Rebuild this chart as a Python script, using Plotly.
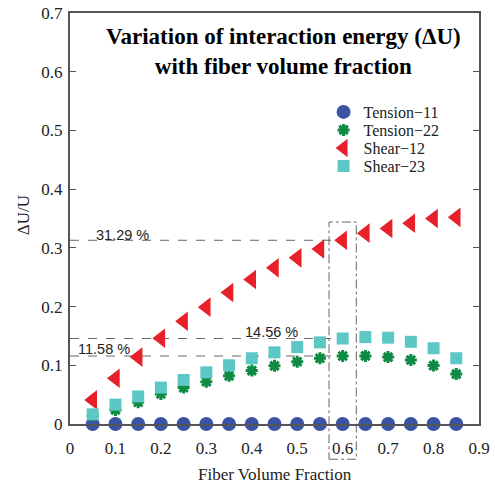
import plotly.graph_objects as go

vf = [0.05, 0.10, 0.15, 0.20, 0.25, 0.30, 0.35, 0.40, 0.45, 0.50, 0.55, 0.60, 0.65, 0.70, 0.75, 0.80, 0.85]
tension_11 = [0.0] * 17
tension_22 = [0.014, 0.024, 0.037, 0.051, 0.062, 0.072, 0.082, 0.091, 0.099, 0.106, 0.112, 0.1158, 0.116, 0.114, 0.109, 0.0995, 0.085]
shear_12 = [0.041, 0.078, 0.114, 0.146, 0.175, 0.199, 0.224, 0.246, 0.266, 0.283, 0.298, 0.3129, 0.325, 0.333, 0.342, 0.350, 0.352]
shear_23 = [0.0165, 0.033, 0.047, 0.062, 0.075, 0.088, 0.100, 0.112, 0.122, 0.131, 0.139, 0.1456, 0.148, 0.147, 0.140, 0.129, 0.112]

ann_vals = [0.3129, 0.1456, 0.1158]
ann_text = ["31.29 %", "14.56 %", "11.58 %"]
ann_x = [0.116, 0.444, 0.074]
ann_y = [0.3225, 0.1575, 0.128]
focus_vf = 0.6

serif = "Liberation Serif"
fig = go.Figure()
fig.add_trace(go.Scatter(x=vf, y=tension_11, mode="markers", name="Tension−11", legend="legend",
                         marker=dict(symbol="circle", size=14, color="#3a53a4"), cliponaxis=False))
fig.add_trace(go.Scatter(x=vf, y=tension_22, mode="markers", name="Tension−22", legend="legend2",
                         marker=dict(symbol="asterisk-open", size=10, color="#0f8a43",
                                     line=dict(width=3, color="#0f8a43"))))
fig.add_trace(go.Scatter(x=vf, y=shear_12, mode="markers", name="Shear−12", legend="legend3",
                         marker=dict(symbol="triangle-left", size=17, color="#e8202a")))
fig.add_trace(go.Scatter(x=vf, y=shear_23, mode="markers", name="Shear−23", legend="legend4",
                         marker=dict(symbol="square", size=12, color="#5cc8c6")))
for tr in fig.data:
    tr.showlegend = True

for v, t, tx, ty in zip(ann_vals, ann_text, ann_x, ann_y):
    fig.add_shape(type="line", x0=0, x1=focus_vf, y0=v, y1=v, xref="x", yref="y",
                  line=dict(color="#666", width=1, dash="dash"), layer="below")
    fig.add_annotation(x=tx, y=ty, xref="x", yref="y", text=t, showarrow=False,
                       font=dict(family="Liberation Sans", size=14.5, color="#222"))

fig.add_shape(type="rect", x0=focus_vf - 0.03, x1=focus_vf + 0.03,
              y0=-0.06 / 0.7, y1=0.344 / 0.7, xref="x", yref="paper",
              line=dict(color="#666", width=1, dash="dashdot"), layer="below")

fig.add_annotation(x=0.523, y=0.907, xref="paper", yref="paper", xanchor="center", yanchor="middle",
                   text="<b>Variation of interaction energy (ΔU)<br>with fiber volume fraction</b>",
                   showarrow=False, font=dict(family=serif, size=23, color="#000"))

# axis titles
fig.add_annotation(x=0.5, y=-0.124, xref="paper", yref="paper", xanchor="center", yanchor="middle",
                   text="Fiber Volume Fraction", showarrow=False,
                   font=dict(family=serif, size=17, color="#222"))
fig.add_annotation(x=-0.115, y=0.508, xref="paper", yref="paper", xanchor="center", yanchor="middle",
                   text="ΔU/U", showarrow=False, textangle=-90,
                   font=dict(family=serif, size=17, color="#222"))

axis_common = dict(showline=True, linecolor="#555", linewidth=2,
                   showgrid=False, zeroline=False, automargin=False,
                   tickfont=dict(family=serif, size=17, color="#222"))
fig.update_xaxes(range=[0, 0.9], tickvals=[0, 0.1, 0.2, 0.3, 0.4, 0.5, 0.6, 0.7, 0.8, 0.9],
                 ticktext=["0", "0.1", "0.2", "0.3", "0.4", "0.5", "0.6", "0.7", "0.8", "0.9"],
                 ticks="", mirror=True, ticklabelstandoff=8,
                 **axis_common)
fig.update_yaxes(range=[0, 0.7], tickvals=[0, 0.1, 0.2, 0.3, 0.4, 0.5, 0.6, 0.7],
                 ticktext=["0", "0.1", "0.2", "0.3", "0.4", "0.5", "0.6", "0.7"],
                 ticks="inside", ticklen=6, tickcolor="#555", mirror="ticks", ticklabelstandoff=2,
                 **axis_common)

leg_font = dict(family=serif, size=16, color="#222")
leg_rows = [112, 130, 148, 166]
leg_common = dict(x=0.62, xanchor="left", yanchor="middle", font=leg_font,
                  bgcolor="rgba(0,0,0,0)", itemwidth=30, borderwidth=0)
legends = {}
for i, row in enumerate(leg_rows):
    key = "legend" if i == 0 else f"legend{i + 1}"
    legends[key] = dict(y=(424 - row) / 411, **leg_common)

fig.update_layout(width=495, height=487, margin=dict(l=70, r=16, t=13, b=63),
                  showlegend=True,
                  plot_bgcolor="white", paper_bgcolor="white", **legends)

fig.write_html("out.html", config={"displayModeBar": False},
               post_script="document.body.style.margin='0';")
